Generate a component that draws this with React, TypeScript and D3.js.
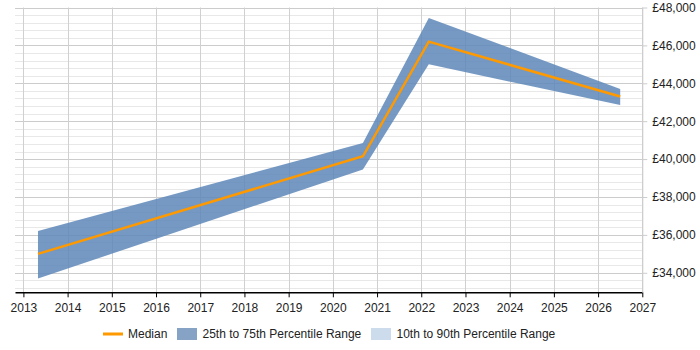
import { useEffect, useRef } from 'react';
import * as d3 from 'd3';

// Salary trend: decimal year of each sample, then the percentile values
const years = [2013.33, 2020.68, 2022.17, 2026.5];
const median = [35000, 40150, 46200, 43300];
const p25 = [33700, 39450, 45000, 42850];
const p75 = [36200, 40850, 47450, 43700];

const yearTicks = d3.range(2013, 2028);
const salaryTicks = [34000, 36000, 38000, 40000, 42000, 44000, 46000, 48000];

const legendItems = [
  { label: 'Median', kind: 'line', color: '#ff9900' },
  { label: '25th to 75th Percentile Range', kind: 'box', color: '#86a3c6' },
  { label: '10th to 90th Percentile Range', kind: 'box', color: '#cddcec' },
];

export default function App() {
  const svgRef = useRef<SVGSVGElement>(null);
  const width = 700;
  const height = 350;

  useEffect(() => {
    if (!svgRef.current) return;
    const svg = d3.select(svgRef.current);
    svg.selectAll('*').remove();

    const left = 15;
    const right = 642.3;
    const top = 7.5;
    const bottom = 292.3;

    const x = d3.scaleLinear().domain([2012.81, 2027]).range([left, right]);
    const y = d3.scaleLinear().domain([32970, 48000]).range([bottom, top]);

    // minor horizontal grid every 400
    const minor = d3.range(33200, 48001, 400).filter(v => v % 2000 !== 0);
    svg.append('g')
      .selectAll('line')
      .data(minor)
      .enter().append('line')
      .attr('x1', left).attr('x2', right)
      .attr('y1', d => Math.round(y(d)) + 0.5).attr('y2', d => Math.round(y(d)) + 0.5)
      .attr('stroke', '#e8e8e8');

    svg.append('g')
      .selectAll('line')
      .data(salaryTicks)
      .enter().append('line')
      .attr('x1', left).attr('x2', right)
      .attr('y1', d => Math.round(y(d)) + 0.5).attr('y2', d => Math.round(y(d)) + 0.5)
      .attr('stroke', '#cccccc');

    // vertical year grid
    svg.append('g')
      .selectAll('line')
      .data(yearTicks)
      .enter().append('line')
      .attr('x1', d => Math.round(x(d)) + 0.5).attr('x2', d => Math.round(x(d)) + 0.5)
      .attr('y1', top).attr('y2', bottom)
      .attr('stroke', '#d0d0d0');

    const pts = years.map((yr, i) => ({ yr, med: median[i], lo: p25[i], hi: p75[i] }));

    const band = d3.area<typeof pts[0]>()
      .x(d => x(d.yr))
      .y0(d => y(d.lo))
      .y1(d => y(d.hi));

    svg.append('path')
      .datum(pts)
      .attr('d', band)
      .attr('fill', '#5d87b8')
      .attr('fill-opacity', 0.85);

    const line = d3.line<typeof pts[0]>()
      .x(d => x(d.yr))
      .y(d => y(d.med));

    svg.append('path')
      .datum(pts)
      .attr('d', line)
      .attr('fill', 'none')
      .attr('stroke', '#ff9900')
      .attr('stroke-width', 2.5);

    // bottom axis
    const xAxis = svg.append('g')
      .attr('transform', `translate(0,${bottom})`)
      .call(d3.axisBottom(x).tickValues(yearTicks).tickFormat(d3.format('d')).tickSize(5).tickSizeOuter(0));
    xAxis.select('.domain').attr('stroke', '#000').attr('stroke-width', 1.5);
    xAxis.selectAll('.tick line').attr('stroke', '#000');
    xAxis.selectAll('text')
      .attr('dy', '0.95em')
      .style('font-family', '"Liberation Sans", Arial, sans-serif')
      .style('font-size', '12px')
      .style('fill', '#222');

    // right axis
    const yAxis = svg.append('g')
      .attr('transform', `translate(${right},0)`)
      .call(d3.axisRight(y).tickValues(salaryTicks).tickFormat(d => '£' + d3.format(',')(d as number)).tickSize(5).tickSizeOuter(0));
    yAxis.select('.domain').attr('stroke', '#cccccc');
    yAxis.selectAll('.tick line').attr('stroke', '#cccccc');
    yAxis.selectAll('text')
      .attr('x', 10)
      .style('font-family', '"Liberation Sans", Arial, sans-serif')
      .style('font-size', '12px')
      .style('fill', '#222');

    // legend
    const legend = svg.append('g')
      .attr('transform', 'translate(103,334)')
      .style('font-family', '"Liberation Sans", Arial, sans-serif')
      .style('font-size', '12px');

    const offsets = [0, 74, 268];
    const items = legend.selectAll('.legend-item')
      .data(legendItems)
      .enter().append('g')
      .attr('class', 'legend-item')
      .attr('transform', (d, i) => `translate(${offsets[i]},0)`);

    items.filter(d => d.kind === 'line').append('rect')
      .attr('x', 0).attr('y', -1.5).attr('width', 20).attr('height', 3)
      .attr('fill', d => d.color);

    items.filter(d => d.kind === 'box').append('rect')
      .attr('x', 0).attr('y', -6).attr('width', 20).attr('height', 12)
      .attr('fill', d => d.color);

    items.append('text')
      .attr('x', (d) => (d.kind === 'line' ? 25 : 25.5))
      .attr('dy', '0.35em')
      .style('fill', '#222')
      .text(d => d.label);
  }, []);

  return (
    <svg
      ref={svgRef}
      width={width}
      height={height}
      style={{ position: 'absolute', left: 0, top: 0, background: '#fff' }}
    />
  );
}
